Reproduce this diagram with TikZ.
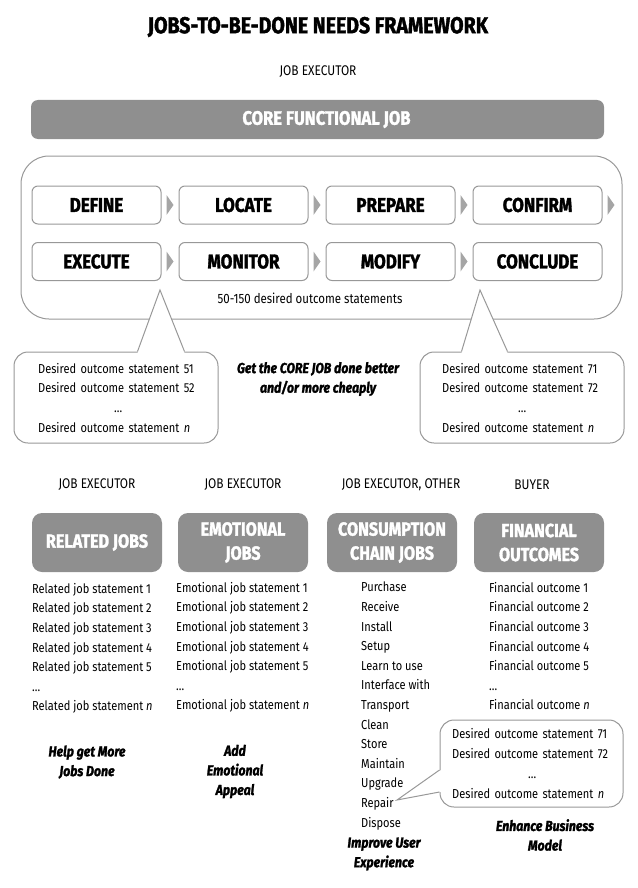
\documentclass[tikz,border=0pt]{standalone}
\usepackage{fontspec}
\setmainfont{Fira Sans}[FakeStretch=0.85, BoldFeatures={FakeBold=1.6}, BoldItalicFeatures={FakeBold=1.6}]
\usepackage{tikz}
\usetikzlibrary{positioning, calc}
\definecolor{boxgray}{RGB}{143,143,143}
\definecolor{linegray}{RGB}{152,152,152}
\definecolor{chevgray}{RGB}{165,165,165}

\newcommand{\dotsline}{\hfill\dots\hfill\null}

\begin{document}
\begin{tikzpicture}[x=1pt, y=-1pt, font=\fontsize{13}{19.6}\selectfont]
  \tikzstyle{stepbox} = [rectangle, draw=linegray, line width=1pt, fill=white, rounded corners=6pt, minimum width=129pt, minimum height=38pt, inner sep=0pt, font=\fontsize{20}{22}\selectfont\bfseries]
  \tikzstyle{graybox} = [rectangle, fill=boxgray, rounded corners=10pt, minimum width=130pt, minimum height=59pt, align=center, inner sep=0pt, text=white, font=\fontsize{19}{24}\selectfont\bfseries]
  \tikzstyle{callout} = [rectangle, draw=linegray, line width=1pt, fill=white, rounded corners=14pt]
  \tikzstyle{tail} = [draw=linegray, line width=1pt]
  \tikzstyle{role} = [font=\fontsize{14}{16}\selectfont]
  \tikzstyle{goal} = [align=center, inner sep=0pt, font=\fontsize{14.5}{19.6}\selectfont\bfseries\itshape]
  \tikzstyle{list} = [align=left, anchor=north west, inner sep=0pt]
  \tikzstyle{chev} = [fill=chevgray]

  \useasboundingbox (0,0) rectangle (637,888);

  % core job
  \node [font=\fontsize{23}{26}\selectfont\bfseries] (title) at (318,27) {JOBS-TO-BE-DONE NEEDS FRAMEWORK};
  \node [role] (roleCore) at (318,72) {JOB EXECUTOR};
  \node [rectangle, fill=boxgray, rounded corners=7pt, minimum width=573pt, minimum height=39pt, text=white, font=\fontsize{19.5}{22}\selectfont\bfseries] (core) at (317.5,119.5) {\hspace*{18pt}CORE FUNCTIONAL JOB};
  \node [rectangle, draw=linegray, line width=1pt, rounded corners=28pt, minimum width=601pt, minimum height=163pt] (frame) at (321.5,237.5) {};

  \node [stepbox] (define) at (96.5,205) {DEFINE};
  \node [stepbox, right=17pt of define] (locate) {LOCATE};
  \node [stepbox, right=17pt of locate] (prepare) {PREPARE};
  \node [stepbox, right=17pt of prepare] (confirm) {CONFIRM};
  \node [stepbox, below=17.5pt of define] (execute) {EXECUTE};
  \node [stepbox, right=17pt of execute] (monitor) {MONITOR};
  \node [stepbox, right=17pt of monitor] (modify) {MODIFY};
  \node [stepbox, right=17pt of modify] (conclude) {CONCLUDE};

  \foreach \n in {define, locate, prepare, confirm, execute, monitor, modify}
    \fill[chev] ($(\n.east)+(5,-10)$) -- ++(7,10) -- ++(-7,10) -- cycle;

  \node [font=\fontsize{13.5}{15}\selectfont] (outcomes) at (310,298) {50-150 desired outcome statements};

  % callouts below the core job
  \node [callout, minimum width=204pt, minimum height=91pt] (calloutL) at (116,397.5) {};
  \node [callout, minimum width=204pt, minimum height=91pt] (calloutR) at (522,397.5) {};

  \coordinate (tipL) at (160,290);
  \coordinate (footLa) at ([xshift=124pt]calloutL.north west);
  \coordinate (footLb) at ([xshift=171pt]calloutL.north west);
  \fill[white] ($(footLa)+(0,1.5)$) -- (tipL) -- ($(footLb)+(0,1.5)$) -- cycle;
  \draw[tail] (footLa) -- (tipL) -- (footLb);

  \coordinate (tipR) at (480,290);
  \coordinate (footRa) at ([xshift=42pt]calloutR.north west);
  \coordinate (footRb) at ([xshift=88pt]calloutR.north west);
  \fill[white] ($(footRa)+(0,1.5)$) -- (tipR) -- ($(footRb)+(0,1.5)$) -- cycle;
  \draw[tail] (footRa) -- (tipR) -- (footRb);

  \node [list, text width=160pt] (textL) at (38,363) {Desired outcome statement 51\\Desired outcome statement 52\\\dotsline\\Desired outcome statement \textit{n}};
  \node [list, text width=160pt] (textR) at (442,363) {Desired outcome statement 71\\Desired outcome statement 72\\\dotsline\\Desired outcome statement \textit{n}};
  \node [goal] (goalCore) at (318,379) {Get the CORE JOB done better\\and/or more cheaply};

  % other job types
  \node [role] (roleRelated) at (97,485) {JOB EXECUTOR};
  \node [role] (roleEmotional) at (243,485) {JOB EXECUTOR};
  \node [role] (roleConsumption) at (401,485) {JOB EXECUTOR, OTHER};
  \node [role] (roleFinancial) at (532,485) {BUYER};

  \node [graybox] (related) at (97,542.5) {RELATED JOBS};
  \node [graybox] (emotional) at (243,542.5) {EMOTIONAL\\JOBS};
  \node [graybox] (consumption) at (392,542.5) {CONSUMPTION\\CHAIN JOBS};
  \node [graybox] (financial) at (539,542.5) {FINANCIAL\\OUTCOMES};

  \node [list] (relatedList) at (32,583) {Related job statement 1\\Related job statement 2\\Related job statement 3\\Related job statement 4\\Related job statement 5\\\dots\\Related job statement \textit{n}};
  \node [list] (emotionalList) at (176,582) {Emotional job statement 1\\Emotional job statement 2\\Emotional job statement 3\\Emotional job statement 4\\Emotional job statement 5\\\dots\\Emotional job statement \textit{n}};
  \node [list] (consumptionList) at (361,582) {Purchase\\Receive\\Install\\Setup\\Learn to use\\Interface with\\Transport\\Clean\\Store\\Maintain\\Upgrade\\Repair\\Dispose};
  \node [list] (financialList) at (489,582) {Financial outcome 1\\Financial outcome 2\\Financial outcome 3\\Financial outcome 4\\Financial outcome 5\\\dots\\Financial outcome \textit{n}};

  % callout on the consumption chain
  \node [callout, minimum width=183pt, minimum height=87pt] (calloutB) at (531.5,763.5) {};
  \coordinate (tipB) at (397,800);
  \coordinate (footBa) at ([yshift=-6.5pt]calloutB.west);
  \coordinate (footBb) at ([yshift=-28.5pt]calloutB.west);
  \fill[white] ($(footBa)+(1.5,0)$) -- (tipB) -- ($(footBb)+(1.5,0)$) -- cycle;
  \draw[tail] (footBa) -- (tipB) -- (footBb);
  \node [list, text width=160pt, font=\fontsize{13}{20}\selectfont] (textB) at (452,728) {Desired outcome statement 71\\Desired outcome statement 72\\\dotsline\\Desired outcome statement \textit{n}};

  \node [goal] (goalRelated) at (87,762) {Help get More\\Jobs Done};
  \node [goal] (goalEmotional) at (235,771.5) {Add\\Emotional\\Appeal};
  \node [goal] (goalConsumption) at (384,854) {Improve User\\Experience};
  \node [goal] (goalFinancial) at (545,835) {Enhance Business\\Model};
\end{tikzpicture}
\end{document}
